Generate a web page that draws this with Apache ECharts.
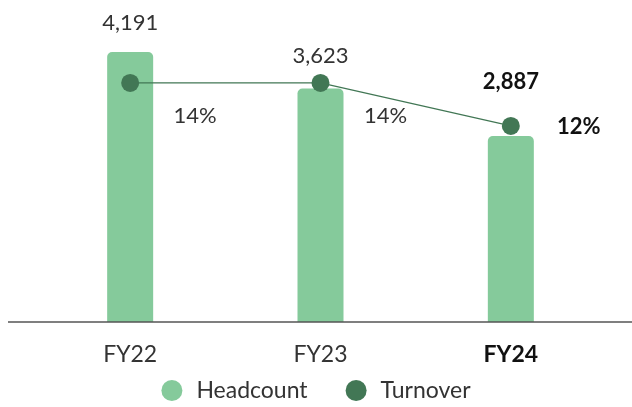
<!DOCTYPE html>
<html>
<head>
<meta charset="utf-8">
<script src="https://cdn.jsdelivr.net/npm/echarts@6/dist/echarts.min.js"></script>
<style>
html,body{margin:0;padding:0;background:#fff;}
#main{width:632px;height:407px;}
</style>
</head>
<body>
<div id="main"></div>
<script>
// data
var years = ["FY22", "FY23", "FY24"];
var headcount = [4191, 3623, 2887];
var turnover = [14, 14, 12];

var font = "Lato";
var lastIdx = years.length - 1;
// label gaps above each bar (last one sits above the dot)
var barLabelGap = [18, 22, 43];

var barData = [];
for (var i = 0; i < headcount.length; i++) {
  var item = { value: headcount[i], label: { distance: barLabelGap[i] } };
  if (i == lastIdx) {
    item.label.fontWeight = "bold";
    item.label.color = "#111";
  }
  barData.push(item);
}

var lineData = [];
for (var j = 0; j < turnover.length; j++) {
  var it = { value: turnover[j] };
  if (j == lastIdx) {
    it.label = { fontWeight: "bold", color: "#111", offset: [68, 1] };
  }
  lineData.push(it);
}

var myChart = echarts.init(document.getElementById('main'));
var option = {
  backgroundColor: "#fff",
  animation: false,
  textStyle: { fontFamily: font },
  legend: {
    bottom: 0,
    left: "center",
    itemWidth: 21,
    itemHeight: 21,
    itemGap: 38,
    textStyle: { fontSize: 23, color: "#333", fontFamily: font, padding: [0, 0, 0, 9] },
    data: [
      { name: "Headcount", icon: "circle" },
      { name: "Turnover", icon: "circle" }
    ]
  },
  grid: { left: 35, right: 26, top: 10, bottom: 85 },
  xAxis: {
    type: "category",
    data: years,
    axisLine: { show: false },
    axisTick: { show: false },
    axisLabel: {
      margin: 21,
      fontSize: 23,
      color: "#333",
      fontFamily: font,
      formatter: function (v) {
        return v == years[lastIdx] ? "{b|" + v + "}" : v;
      },
      rich: { b: { fontWeight: "bold", fontSize: 23, color: "#111", fontFamily: font } }
    }
  },
  yAxis: [
    { type: "value", min: 0, max: 4843, show: false, splitLine: { show: false } },
    { type: "value", min: 2.88, max: 17.39, show: false, splitLine: { show: false } }
  ],
  graphic: [{
    type: "line",
    shape: { x1: 8, y1: 322, x2: 632, y2: 322 },
    style: { stroke: "#555", lineWidth: 1.5 },
    z: 10
  }],
  series: [
    {
      name: "Headcount",
      type: "bar",
      barWidth: 46,
      itemStyle: { color: "#85CA9B", borderRadius: [5, 5, 0, 0] },
      label: {
        show: true,
        position: "top",
        fontSize: 22,
        color: "#333",
        fontFamily: font,
        formatter: function (p) { return p.value.toLocaleString("en-US"); }
      },
      data: barData
    },
    {
      name: "Turnover",
      type: "line",
      yAxisIndex: 1,
      symbol: "circle",
      symbolSize: 18,
      itemStyle: { color: "#427755" },
      lineStyle: { color: "#427755", width: 1.2 },
      label: {
        show: true,
        position: "inside",
        offset: [65, 33],
        fontSize: 22,
        color: "#333",
        fontFamily: font,
        formatter: function (p) { return p.value + "%"; }
      },
      z: 5,
      data: lineData
    }
  ]
};
myChart.setOption(option);
</script>
</body>
</html>
